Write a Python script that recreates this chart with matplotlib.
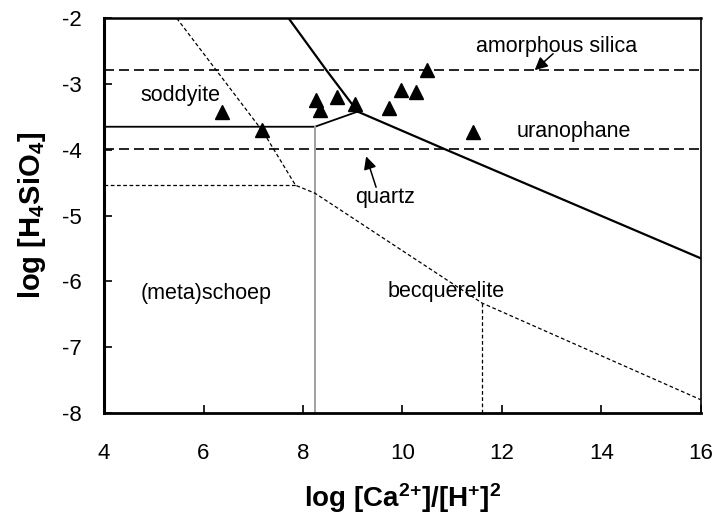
import matplotlib
matplotlib.use("Agg")
import matplotlib.pyplot as plt

plt.rcParams['font.family'] = ['Liberation Sans', 'DejaVu Sans']
plt.rcParams['axes.unicode_minus'] = False
plt.rcParams['mathtext.fontset'] = 'custom'
plt.rcParams['mathtext.rm'] = 'Liberation Sans'
plt.rcParams['mathtext.bf'] = 'Liberation Sans:bold'
plt.rcParams['mathtext.default'] = 'bf'

# measured samples
sample_x = [6.37, 7.17, 8.27, 8.34, 8.68, 9.05, 9.72, 9.98, 10.28, 10.50, 11.42]
sample_y = [-3.42, -3.70, -3.25, -3.40, -3.20, -3.30, -3.37, -3.09, -3.12, -2.79, -3.73]

# phase boundaries (solid)
upper_x = [7.71, 8.47, 9.10]
upper_y = [-2.0, -2.79, -3.42]
sod_x = [4.0, 8.24, 9.10]
sod_y = [-3.65, -3.65, -3.42]
uran_x = [9.10, 10.88, 16.0]
uran_y = [-3.42, -4.00, -5.65]
schoep_x = [8.24, 8.24]
schoep_y = [-3.65, -8.0]

# metastable boundaries (dotted)
dot_x = [5.46, 7.20, 7.85, 8.24, 11.60, 16.0]
dot_y = [-2.0, -3.73, -4.54, -4.66, -6.33, -7.80]
dot_h_x = [4.0, 7.85]
dot_h_y = [-4.54, -4.54]
dot_v_x = [11.60, 11.60]
dot_v_y = [-6.33, -8.0]

# silica saturation
amorph_silica = -2.78
quartz = -3.99

fig = plt.figure(figsize=(7.18, 5.2), dpi=100)
ax = fig.add_axes([0.145, 0.206, 0.831, 0.759])

ax.axhline(amorph_silica, color='black', lw=1.2, dashes=(6, 3))
ax.axhline(quartz, color='black', lw=1.2, dashes=(6, 3))

ax.plot(upper_x, upper_y, color='black', lw=1.6)
ax.plot(sod_x, sod_y, color='black', lw=1.3)
ax.plot(uran_x, uran_y, color='black', lw=1.6)
ax.plot(schoep_x, schoep_y, color='#a0a0a0', lw=1.4)

ax.plot(dot_x, dot_y, color='black', lw=0.9, dashes=(3, 2))
ax.plot(dot_h_x, dot_h_y, color='black', lw=0.9, dashes=(3, 2))
ax.plot(dot_v_x, dot_v_y, color='black', lw=0.9, dashes=(3, 2))

ax.plot(sample_x, sample_y, '^', color='black', ms=10, ls='none')

lab = dict(fontsize=15.5, ha='center', va='center')
ax.text(5.53, -3.17, 'soddyite', **lab)
ax.text(13.45, -3.73, 'uranophane', **lab)
ax.text(6.05, -6.18, '(meta)schoep', **lab)
ax.text(10.87, -6.16, 'becquerelite', **lab)
ax.text(13.1, -2.43, 'amorphous silica', **lab)
ax.text(9.65, -4.72, 'quartz', **lab)

arr = dict(arrowstyle='-|>', color='black', lw=1.1, mutation_scale=19,
           shrinkA=0, shrinkB=0)
ax.annotate('', xy=(12.66, -2.79), xytext=(13.03, -2.54), arrowprops=arr)
ax.annotate('', xy=(9.27, -4.10), xytext=(9.47, -4.57), arrowprops=arr)

ax.set_xlim(4, 16)
ax.set_ylim(-8, -2)
ax.set_xticks([4, 6, 8, 10, 12, 14, 16])
ax.set_yticks([-8, -7, -6, -5, -4, -3, -2])
ax.tick_params(direction='in', length=6, width=1.2, labelsize=16)
ax.tick_params(axis='x', pad=22)
ax.tick_params(axis='y', pad=16)

ax.spines['left'].set_linewidth(2.2)
ax.spines['bottom'].set_linewidth(2.0)
ax.spines['top'].set_linewidth(1.8)
ax.spines['right'].set_linewidth(1.2)

ax.set_xlabel(r'log [Ca$^{2{+}}$]/[H$^{+}$]$^{2}$', fontsize=20,
              fontweight='bold', labelpad=12)
ax.set_ylabel(r'log [H$_4$SiO$_4$]', fontsize=21, fontweight='bold',
              labelpad=10)

fig.savefig('out.png', dpi=100)
